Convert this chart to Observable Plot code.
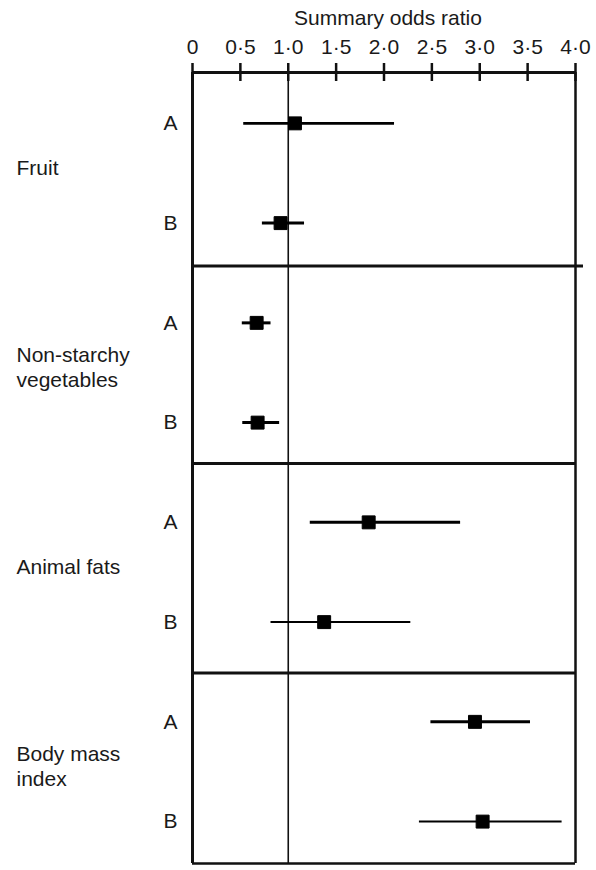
<!DOCTYPE html>
<html><head><meta charset="utf-8">
<script src="https://cdn.jsdelivr.net/npm/d3@7"></script>
<script src="https://cdn.jsdelivr.net/npm/@observablehq/plot@0.6"></script>
<style>body{margin:0;background:#fff}</style>
</head><body><div id="chart"></div>
<script>
// ---- data ----
const categories = ["Fruit", "Non-starchy\nvegetables", "Animal fats", "Body mass\nindex"];
const groups = ["A", "B"];
const oddsRatio = [1.07, 0.92, 0.67, 0.68, 1.84, 1.375, 2.95, 3.03];
const ciLow =     [0.535, 0.73, 0.52, 0.525, 1.23, 0.82, 2.49, 2.37];
const ciHigh =    [2.11, 1.17, 0.82, 0.91, 2.80, 2.28, 3.53, 3.86];
const xTicks = [0, 0.5, 1, 1.5, 2, 2.5, 3, 3.5, 4];
const xTickLabels = ["0", "0·5", "1·0", "1·5", "2·0", "2·5", "3·0", "3·5", "4·0"];
const axisTitle = "Summary odds ratio";
const referenceOR = 1;
// panel edges in row units (rows 0..7 are the A/B estimates)
const panelEdges = [-0.51, 1.43, 3.41, 5.51, 7.42];

// ---- styles ----
const ciWidth = [2.7, 3, 3, 3, 3, 2, 3, 2];
const font = "'Liberation Sans', Arial, Helvetica, sans-serif";
const fs = 21;
const ink = "#1a1a1a";

const rows = oddsRatio.map((v, i) => ({
  row: i, cat: categories[Math.floor(i / 2)], group: groups[i % 2],
  or: v, lo: ciLow[i], hi: ciHigh[i], w: ciWidth[i]
}));
const catRows = categories.map((c, j) => ({label: c, row: 2 * j + 0.5}));
const yTop = panelEdges[0], yBottom = panelEdges[panelEdges.length - 1];
const xMin = xTicks[0], xMax = xTicks[xTicks.length - 1];

const chart = Plot.plot({
  width: 596, height: 870,
  marginTop: 72, marginBottom: 7, marginLeft: 192, marginRight: 21,
  x: {domain: [xMin, xMax], axis: null},
  y: {domain: [yTop, yBottom], reverse: true, axis: null},
  style: {fontFamily: font, fontSize: fs + "px", color: ink, background: "#fff", overflow: "visible"},
  marks: [
    Plot.ruleX([referenceOR], {y1: yTop, y2: yBottom, stroke: "#111", strokeWidth: 1.6}),
    Plot.ruleY(panelEdges.slice(1, 2), {x1: xMin, x2: xMax, insetRight: -8, stroke: "#111", strokeWidth: 3}),
    Plot.ruleY(panelEdges.slice(2, -1), {x1: xMin, x2: xMax, stroke: "#111", strokeWidth: 3}),
    Plot.ruleY([yBottom], {x1: xMin, x2: xMax, stroke: "#111", strokeWidth: 2.5}),
    Plot.ruleX([xMin], {y1: yTop, y2: yBottom, stroke: "#111", strokeWidth: 3}),
    Plot.ruleX([xMax], {y1: yTop, y2: yBottom, stroke: "#111", strokeWidth: 2.5}),
    Plot.ruleY([yTop], {x1: xMin, x2: xMax, stroke: "#111", strokeWidth: 3}),
    Plot.ruleX(xTicks, {x: d => d, y1: yTop, y2: yTop, insetTop: -9, insetBottom: -9, stroke: "#111", strokeWidth: 2.5}),
    Plot.text(xTicks, {x: d => d, y: yTop, dy: -25, text: (d, i) => xTickLabels[i], fontSize: fs, fill: ink}),
    Plot.text([axisTitle], {x: (xMin + xMax) / 2, y: yTop, dx: 4, dy: -54, text: d => d, fontSize: fs, fill: ink}),
    Plot.ruleY(rows, {y: "row", x1: "lo", x2: "hi", stroke: "#000", strokeWidth: "w"}),
    Plot.dot(rows, {x: "or", y: "row", symbol: "square", r: 7.3, fill: "#000", stroke: "#000", strokeWidth: 1, strokeLinejoin: "round"}),
    Plot.text(rows, {y: "row", frameAnchor: "left", dx: -29, text: "group", fontSize: fs, fill: ink}),
    Plot.text(catRows, {y: "row", frameAnchor: "left", dx: -176, dy: -6, textAnchor: "start", text: "label", lineHeight: 1.15, fontSize: fs, fill: ink})
  ]
});
document.getElementById("chart").appendChild(chart);
</script>
</body></html>
